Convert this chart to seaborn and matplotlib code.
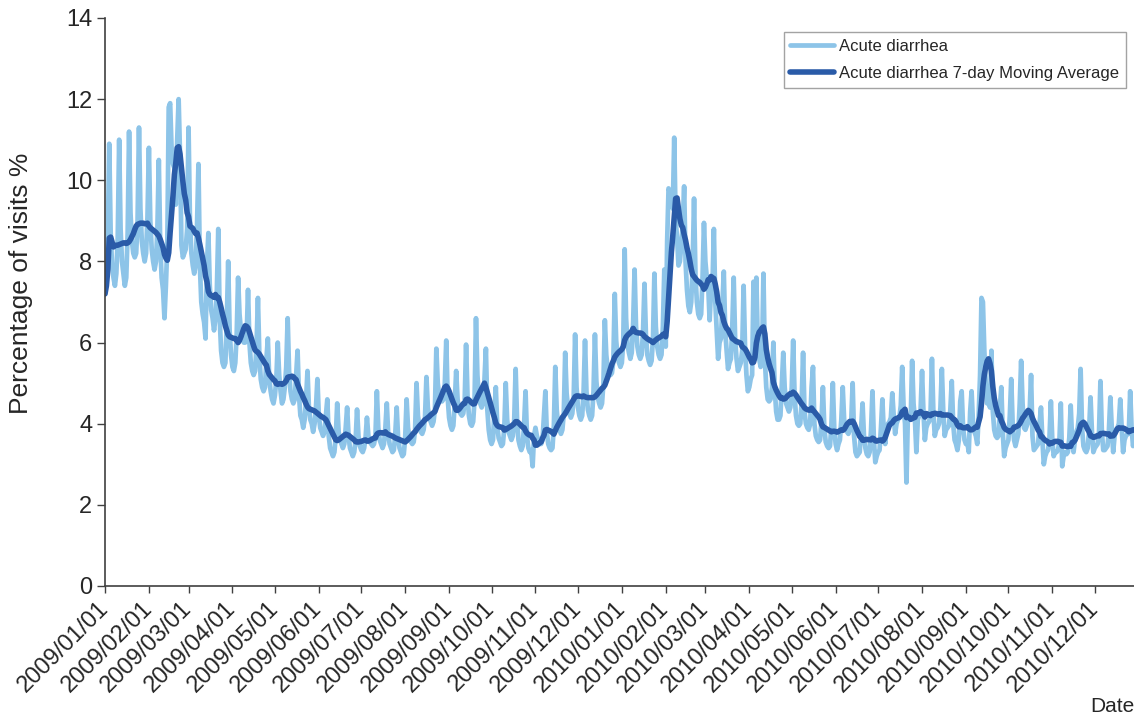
import pandas as pd
import matplotlib
matplotlib.use('Agg')
import matplotlib.pyplot as plt
import matplotlib.dates as mdates
import seaborn as sns

# daily % of visits for acute diarrhea, 2009 (Jan 1-3, then Sun..Sat weeks, then Dec 27-31)
pct_2009 = [
    7.2, 7.6, 8.6,
    10.9, 8.7, 7.9, 7.6, 7.4, 7.7, 8.6,
    11.0, 8.8, 8.0, 7.7, 7.4, 7.6, 8.7,
    11.2, 9.2, 8.5, 8.2, 8.1, 8.2, 9.0,
    11.3, 9.3, 8.5, 8.2, 8.0, 8.2, 9.1,
    10.8, 9.0, 8.3, 8.0, 7.8, 8.0, 8.8,
    10.5, 8.4, 7.6, 7.3, 6.6, 7.4, 8.4,
    11.8, 11.9, 10.8, 10.4, 10.3, 9.4, 11.0,
    12.0, 10.6, 8.4, 8.1, 8.2, 8.3, 8.8,
    11.3, 9.0, 8.2, 7.9, 7.7, 7.9, 8.9,
    10.4, 7.9, 7.0, 6.7, 6.5, 6.1, 7.9,
    8.7, 7.4, 6.8, 6.6, 6.3, 6.6, 7.3,
    8.8, 6.6, 5.8, 5.5, 5.4, 5.5, 6.5,
    8.0, 6.3, 5.7, 5.4, 5.3, 5.5, 6.2,
    7.6, 6.7, 6.3, 6.1, 6.0, 6.0, 6.1,
    7.3, 6.0, 5.5, 5.3, 5.2, 5.3, 5.9,
    7.1, 5.7, 5.1, 4.9, 4.8, 4.9, 5.6,
    6.1, 5.1, 4.8, 4.6, 4.5, 4.7, 5.1,
    6.0, 5.2, 4.8, 4.5, 4.6, 4.9, 5.4,
    6.6, 5.3, 4.8, 4.6, 4.5, 4.6, 5.2,
    5.8, 4.7, 4.2, 4.1, 3.9, 4.1, 4.6,
    5.3, 4.4, 4.1, 4.0, 3.8, 4.0, 4.4,
    5.1, 4.2, 3.9, 3.8, 3.7, 3.8, 4.2,
    4.6, 3.7, 3.4, 3.3, 3.2, 3.3, 3.7,
    4.5, 3.8, 3.6, 3.5, 3.4, 3.5, 3.9,
    4.4, 3.7, 3.4, 3.3, 3.2, 3.3, 3.6,
    4.35, 3.7, 3.45, 3.35, 3.3, 3.4, 3.65,
    4.15, 3.7, 3.55, 3.5, 3.45, 3.5, 3.7,
    4.8, 3.9, 3.6, 3.5, 3.4, 3.5, 3.9,
    4.5, 3.75, 3.5, 3.4, 3.3, 3.35, 3.75,
    4.4, 3.65, 3.4, 3.3, 3.2, 3.25, 3.65,
    4.6, 3.9, 3.65, 3.55, 3.5, 3.55, 3.85,
    5.0, 4.2, 3.95, 3.8, 3.75, 3.85, 4.15,
    5.15, 4.4, 4.15, 4.05, 3.95, 4.05, 4.35,
    5.85, 5.0, 4.7, 4.6, 4.55, 4.6, 5.0,
    6.05, 4.65, 4.15, 3.95, 3.85, 3.95, 4.5,
    5.3, 4.6, 4.35, 4.25, 4.2, 4.25, 4.55,
    5.95, 4.7, 4.2, 4.0, 3.95, 4.05, 4.6,
    6.6, 5.2, 4.7, 4.5, 4.4, 4.5, 5.1,
    5.85, 4.35, 3.85, 3.6, 3.5, 3.6, 4.3,
    4.9, 3.95, 3.65, 3.55, 3.45, 3.5, 3.9,
    5.0, 4.1, 3.8, 3.7, 3.6, 3.7, 4.1,
    5.35, 4.1, 3.6, 3.45, 3.35, 3.45, 4.0,
    4.8, 3.7, 3.4, 3.3, 3.35, 2.95, 3.7,
    3.9, 3.7, 3.6, 3.5, 3.5, 3.6, 4.2,
    4.8, 3.8, 3.5, 3.4, 3.35, 3.4, 3.95,
    5.4, 4.35, 3.95, 3.85, 3.75, 3.85, 4.25,
    5.75, 4.75, 4.4, 4.25, 4.15, 4.25, 4.65,
    6.2, 4.9, 4.4, 4.2, 4.1, 4.2, 4.8,
    6.05, 4.8, 4.35, 4.2, 4.1, 4.2, 4.8,
    6.2, 5.05, 4.65, 4.5, 4.4, 4.5, 5.0,
    6.55, 5.7, 5.35, 5.25, 5.2, 5.25, 5.55,
    7.2, 6.05, 5.65, 5.5, 5.4,
]

# 2010 (Jan 1-2, then Sun..Sat weeks, then Dec 26-31)
pct_2010 = [
    5.5, 6.0,
    8.3, 6.6, 5.95, 5.75, 5.6, 5.75, 6.5,
    7.8, 6.4, 5.9, 5.7, 5.6, 5.7, 6.3,
    7.45, 6.2, 5.7, 5.55, 5.45, 5.55, 6.1,
    7.7, 6.4, 5.9, 5.7, 5.6, 5.7, 6.4,
    7.8, 5.9, 8.5, 9.8, 9.7, 9.5, 9.3,
    11.05, 9.0, 8.6, 7.9, 8.0, 8.4, 8.9,
    9.85, 8.0, 7.3, 6.9, 6.75, 7.0, 7.9,
    9.55, 7.65, 7.0, 6.7, 6.6, 6.7, 7.6,
    8.95, 8.0, 7.6, 7.4, 6.55, 7.3, 7.4,
    8.8, 7.0, 6.3, 5.6, 6.0, 6.1, 6.9,
    7.75, 6.3, 5.8, 5.35, 5.5, 5.6, 6.4,
    7.6, 6.1, 5.6, 5.3, 5.4, 5.5, 5.8,
    7.4, 5.9, 5.2, 4.8, 4.9, 5.1, 5.2,
    7.5, 6.8, 7.6, 6.0, 5.6, 5.4, 5.6,
    7.7, 5.6, 4.9, 4.6, 4.55, 4.6, 4.9,
    6.0, 4.85, 4.3, 4.1, 4.1, 4.2, 4.95,
    5.75, 4.9, 4.5, 4.4, 4.3, 4.4, 4.9,
    6.05, 4.7, 4.2, 4.0, 3.95, 4.0, 4.55,
    5.75, 4.3, 4.0, 3.9, 3.85, 4.0, 4.9,
    5.4, 4.0, 3.7, 3.6, 3.55, 3.6, 4.1,
    4.9, 3.9, 3.55, 3.45, 3.4, 3.45, 3.95,
    5.0, 3.9, 3.5, 3.35, 3.5, 3.6, 4.1,
    4.9, 4.1, 3.9, 3.8, 3.75, 3.85, 4.05,
    5.0, 3.7, 3.3, 3.2, 3.25, 3.3, 3.9,
    4.5, 3.7, 3.4, 3.25, 3.2, 3.3, 3.85,
    4.8, 3.6, 3.05, 3.2, 3.3, 3.35, 3.9,
    4.6, 3.8, 3.5, 3.9, 4.0, 4.05, 4.15,
    4.75, 4.2, 3.75, 4.0, 4.1, 4.15, 4.45,
    5.4, 4.4, 4.0, 2.55, 4.2, 4.1, 4.1,
    5.55, 4.5, 4.1, 3.3, 4.1, 4.2, 4.35,
    5.3, 4.3, 3.6, 3.9, 4.0, 4.05, 4.25,
    5.6, 4.3, 3.7, 3.85, 3.9, 4.0, 4.4,
    5.35, 4.3, 3.7, 3.85, 3.9, 3.95, 4.35,
    5.05, 4.0, 3.6, 3.5, 3.35, 3.6, 4.55,
    4.8, 3.9, 3.6, 3.5, 3.55, 3.3, 4.3,
    4.8, 4.0, 3.8, 3.7, 3.5, 4.2, 5.2,
    7.1, 7.0, 5.8, 5.0, 4.5, 4.6, 4.4,
    5.8, 4.3, 3.85, 3.7, 3.65, 3.7, 4.4,
    4.9, 3.8, 3.2, 3.4, 3.5, 3.6, 4.2,
    5.1, 4.0, 3.6, 3.45, 3.6, 3.75, 4.5,
    5.55, 4.5, 3.9, 3.85, 3.95, 4.05, 4.3,
    5.2, 3.7, 3.35, 3.4, 3.45, 3.5, 4.0,
    4.4, 3.6, 3.0, 3.2, 3.3, 3.35, 3.65,
    4.55, 3.6, 3.2, 3.3, 3.3, 3.35, 3.55,
    4.5, 2.95, 3.2, 3.3, 3.25, 3.3, 3.65,
    4.45, 3.6, 3.3, 3.6, 3.8, 3.9, 4.25,
    5.35, 3.9, 3.45, 3.35, 3.3, 3.4, 3.85,
    4.65, 3.8, 3.3, 3.4, 3.45, 3.5, 3.8,
    5.05, 3.8, 3.35, 3.35, 3.4, 3.45, 3.85,
    4.65, 3.9, 3.3, 3.7, 3.85, 3.9, 4.0,
    4.6, 3.9, 3.3, 3.6, 3.7, 3.75, 3.75,
    4.8, 3.9, 3.45, 3.6, 3.7, 3.8,
]

series_names = ['Acute diarrhea', 'Acute diarrhea 7-day Moving Average']
y_ticks = [0, 2, 4, 6, 8, 10, 12, 14]

values = pct_2009 + pct_2010
df = pd.DataFrame({
    'date': pd.date_range('2009-01-01', periods=len(values), freq='D'),
    'pct': values,
})
df['ma7'] = df['pct'].rolling(7, min_periods=1).mean()

sns.set_style('ticks')
plt.rcParams['font.family'] = ['Liberation Sans', 'DejaVu Sans']

fig = plt.figure(figsize=(11.34, 7.21), dpi=100)
ax = fig.add_axes([105 / 1134, 1 - 586 / 721, 1029 / 1134, 568 / 721])

sns.lineplot(data=df, x='date', y='pct', ax=ax, color='#8DC4E8', linewidth=3.4,
             label=series_names[0], solid_joinstyle='round')
sns.lineplot(data=df, x='date', y='ma7', ax=ax, color='#2A5BA8', linewidth=4.0,
             label=series_names[1], solid_joinstyle='round')

start = pd.Timestamp('2009-01-01')
ax.set_xlim(start, start + pd.Timedelta(days=726.7))
ax.set_ylim(0, 14)
ax.set_yticks(y_ticks)

ax.xaxis.set_major_locator(mdates.MonthLocator())
ax.xaxis.set_major_formatter(mdates.DateFormatter('%Y/%m/%d'))
for lab in ax.get_xticklabels():
    lab.set_rotation(45)
    lab.set_ha('right')
    lab.set_va('center')
    lab.set_rotation_mode('anchor')

ax.tick_params(axis='x', labelsize=17, length=5, width=1, pad=9, color='#404040')
ax.tick_params(axis='y', labelsize=17, length=6, width=1, pad=3, color='#404040')

for side in ['top', 'right']:
    ax.spines[side].set_visible(False)
for side in ['left', 'bottom']:
    ax.spines[side].set_color('#404040')
    ax.spines[side].set_linewidth(1.2)

ax.set_xlabel('')
ax.set_ylabel('')
fig.text(21 / 1134, 1 - 283 / 721, 'Percentage of visits %', fontsize=19,
         rotation=90, ha='center', va='center')
fig.text(1112 / 1134, 1 - 706 / 721, 'Date', fontsize=15, ha='center', va='center')

leg = ax.legend(loc='upper right', bbox_to_anchor=(1126 / 1134, 1 - 32 / 721),
                bbox_transform=fig.transFigure, borderaxespad=0, fontsize=12,
                frameon=True, fancybox=False, handlelength=2.6, handletextpad=0.35,
                labelspacing=0.75, borderpad=0.4)
leg.get_frame().set_edgecolor('#8C8C8C')
leg.get_frame().set_linewidth(1.0)

fig.savefig('out.png', dpi=100)
